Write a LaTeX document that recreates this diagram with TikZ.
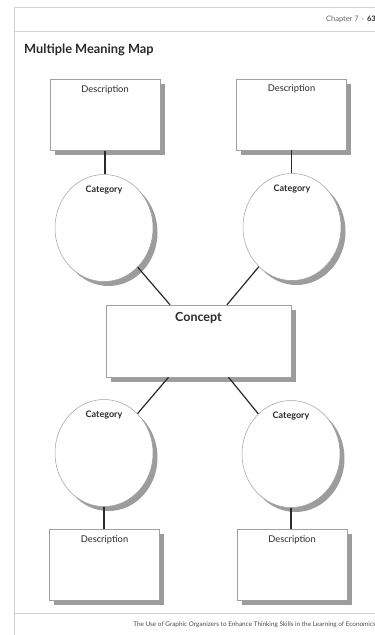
\documentclass[tikz,border=0pt]{standalone}
\usepackage{fontspec}
\setmainfont{Lato}
\usetikzlibrary{shapes.geometric,shadows,calc}
\definecolor{ink}{HTML}{2A2A2A}
\definecolor{rulegray}{HTML}{D2D2D2}
\definecolor{shade}{HTML}{9C9C9C}
\definecolor{edge}{HTML}{A0A0A0}
\tikzset{
  shadowed/.style={general shadow={fill=shade, shadow xshift=4.5pt, shadow yshift=-4.5pt}},
  topcaption/.style 2 args={label={[anchor=north, yshift=#2, inner sep=0pt, text=ink]north:#1}},
  descbox/.style={rectangle, draw=edge, line width=0.5pt, fill=white, shadowed,
    minimum width=110pt, minimum height=71pt, inner sep=0pt,
    topcaption={\fontsize{9.3}{10}\selectfont Description}{-6pt}},
  catoval/.style={ellipse, draw=edge, line width=0.5pt, fill=white, shadowed,
    minimum width=98pt, minimum height=107pt, inner sep=0pt,
    topcaption={\fontsize{9}{10}\selectfont\bfseries Category}{-11pt}},
  conceptbox/.style={rectangle, draw=edge, line width=0.5pt, fill=white, shadowed,
    minimum width=185pt, minimum height=72pt, inner sep=0pt,
    topcaption={\fontsize{12.5}{14}\selectfont\bfseries Concept}{-7pt}},
  link/.style={draw=ink, line width=1.2pt},
  pagerule/.style={draw=rulegray, line width=0.9pt}
}
\begin{document}
\begin{tikzpicture}[x=1pt, y=-1pt]
  \useasboundingbox (0,0) rectangle (375,635);
  \fill[white] (0,0) rectangle (375,635);

  % page frame
  \draw[pagerule] (14,7) -- (375,7);
  \draw[pagerule] (14,31) -- (375,31);
  \draw[pagerule] (14,7) -- (14,635);
  \draw[pagerule] (14,613) -- (375,613);

  % running header, title and footer
  \node[anchor=east, inner sep=0pt, text=black!60, font=\fontsize{7.5}{8}\selectfont] (header) at (376,19)
    {Chapter 7 \,·\, \textbf{\color{ink}63}};
  \node[anchor=west, inner sep=0pt, text=ink, font=\fontsize{12.8}{15}\selectfont\bfseries] (title) at (24,50)
    {Multiple Meaning Map};
  \node[anchor=east, inner sep=0pt, text=black!70, font=\fontsize{6.4}{7}\selectfont] (footer) at (376,625)
    {The Use of Graphic Organizers to Enhance Thinking Skills in the Learning of Economics};

  % central concept
  \node[conceptbox] (con) at (198.5,341) {};

  % categories
  \node[catoval] (c1) at (104,228) {};
  \node[catoval] (c2) at (292,227) {};
  \node[catoval] (c3) at (104,453) {};
  \node[catoval] (c4) at (291,454) {};

  % descriptions
  \node[descbox] (d1) at (105,115) {};
  \node[descbox] (d2) at (291.5,114.5) {};
  \node[descbox] (d3) at (104.5,565) {};
  \node[descbox] (d4) at (292,565) {};

  % attachment points on the concept box
  \coordinate (k1) at ($(con.north)+(-28.5,0)$);
  \coordinate (k2) at ($(con.north)+(28.5,0)$);
  \coordinate (k3) at ($(con.south)+(-30,0)$);
  \coordinate (k4) at ($(con.south)+(30,0)$);

  % connectors
  \draw[link] (d1.south) -- (d1.south |- c1.north);
  \draw[link] (d2.south) -- (d2.south |- c2.north);
  \draw[link] (c3.south) -- (c3.south |- d3.north);
  \draw[link] (c4.south) -- (c4.south |- d4.north);
  \draw[link] (c1) -- (k1);
  \draw[link] (c2) -- (k2);
  \draw[link] (c3) -- (k3);
  \draw[link] (c4) -- (k4);
\end{tikzpicture}
\end{document}
